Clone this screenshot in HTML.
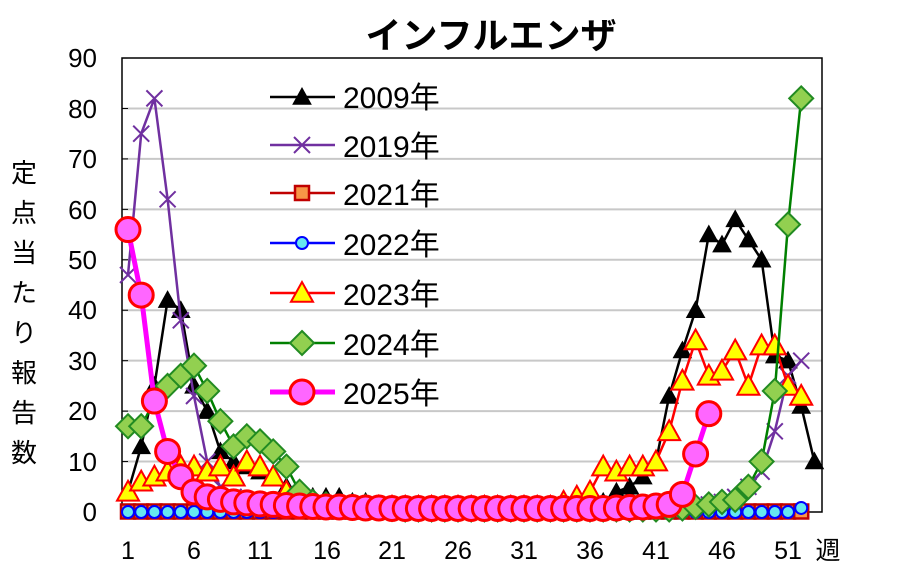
<!DOCTYPE html>
<html><head><meta charset="utf-8"><style>
body{margin:0;background:#fff;width:920px;height:576px;overflow:hidden}
svg text{font-family:"Liberation Sans","Noto Sans CJK JP",sans-serif}
</style></head><body>
<svg id="s" width="920" height="576" xmlns="http://www.w3.org/2000/svg">
<rect width="920" height="576" fill="#fff"/>
<g id="grid"></g>
<rect x="122" y="58" width="700" height="454" fill="none" stroke="#000" stroke-width="1.5"/>
<text x="491" y="48" font-size="36" font-weight="bold" text-anchor="middle">インフルエンザ</text>
<g font-size="26" text-anchor="end">
<text x="97" y="521">0</text><text x="97" y="471">10</text><text x="97" y="420">20</text><text x="97" y="370">30</text><text x="97" y="319">40</text><text x="97" y="269">50</text><text x="97" y="219">60</text><text x="97" y="168">70</text><text x="97" y="118">80</text><text x="97" y="67">90</text>
</g>
<g font-size="25" text-anchor="middle">
<text x="128" y="559">1</text><text x="194" y="559">6</text><text x="260" y="559">11</text><text x="327" y="559">16</text><text x="392" y="559">21</text><text x="458" y="559">26</text><text x="524" y="559">31</text><text x="590" y="559">36</text><text x="656" y="559">41</text><text x="722" y="559">46</text><text x="788" y="559">51</text><text x="828" y="559">週</text>
</g>
<g font-size="26" text-anchor="middle">
<text x="24" y="182">定</text><text x="24" y="222">点</text><text x="24" y="262">当</text><text x="24" y="302">た</text><text x="24" y="342">り</text><text x="24" y="382">報</text><text x="24" y="422">告</text><text x="24" y="462">数</text>
</g>
<g id="series"></g>
<g id="legend" font-size="30">
<text x="343" y="108">2009年</text><text x="343" y="157">2019年</text><text x="343" y="205">2021年</text><text x="343" y="255">2022年</text><text x="343" y="305">2023年</text><text x="343" y="355">2024年</text><text x="343" y="404">2025年</text>
</g>
</svg>
<script>
const NS="http://www.w3.org/2000/svg";
const X=w=>128+(w-1)*13.2, Y=v=>512-v*5.044;
function el(t,a,p){const e=document.createElementNS(NS,t);for(const k in a)e.setAttribute(k,a[k]);p.appendChild(e);return e;}
const g=document.getElementById('grid');
for(let i=1;i<=8;i++)el('line',{x1:122,x2:822,y1:Y(i*10),y2:Y(i*10),stroke:'#c8c8c8','stroke-width':2},g);
for(let i=0;i<=9;i++)el('line',{x1:122,x2:128,y1:Y(i*10),y2:Y(i*10),stroke:'#000','stroke-width':1},g);
function fill(a,n,v){while(a.length<n)a.push(v);return a;}
const d2009=[4,13,25,42,40,25,20,12,10,9,8,7,5,4,3,3,3,2,2,1,1,1,1,1,1,1,1,1,1,1,1,1,1,1,1,1,2,4,5,7,10,23,32,40,55,53,58,54,50,31,30,21,10];
const d2019=[47,75,82,62,38,23,10,5,3,2,1.5,1,1,1,0.8,0.6,0.5,0.5,0.5,0.5,0.4,0.4,0.4,0.4,0.4,0.4,0.4,0.4,0.4,0.4,0.4,0.4,0.4,0.4,0.4,0.4,0.4,0.4,0.4,0.4,0.4,0.5,0.6,1,1.5,2,3,5,8,16,27,30];
const d2021=fill([],52,0.1);
const d2022=fill([],51,0).concat([0.8]);
const d2023=[4,6,7,8,9,9,8,9,7,10,9,7,4,3,2,1.5,1,1,1,1,1,1,1,1,1,1,1,1,1,1,1,1,1,2,3,4,9,8,9,9,10,16,26,34,27,28,32,25,33,33,25,23];
const d2024=[17,17,22,25,27,29,24,18,13,15,14,12,9,4,2,1.5,1,1,1,0.8,0.6,0.5,0.5,0.5,0.5,0.5,0.5,0.5,0.5,0.5,0.5,0.5,0.5,0.5,0.5,0.5,0.5,0.5,0.5,0.5,0.5,0.5,0.7,1,1.5,2,2.4,5,10,24,57,82];
const d2025=[56,43,22,12,7,4,3,2.5,2,1.8,1.6,1.5,1.3,1.2,1.1,1,1,0.9,0.8,0.8,0.7,0.7,0.7,0.7,0.7,0.7,0.7,0.7,0.7,0.7,0.7,0.7,0.7,0.7,0.7,0.7,0.7,0.8,0.9,1,1.2,1.5,3.5,11.5,19.5];
const S=document.getElementById('series');
function tri(p,x,y,s,f,st,sw){el('polygon',{points:`${x},${y-s} ${x-s},${y+s*0.8} ${x+s},${y+s*0.8}`,fill:f,stroke:st,'stroke-width':sw},p);}
const M={
 tri9:(p,x,y)=>tri(p,x,y,9,'#000','#000',1),
 x:(p,x,y)=>{el('path',{d:`M${x-8} ${y-8}L${x+8} ${y+8}M${x-8} ${y+8}L${x+8} ${y-8}`,stroke:'#7030a0','stroke-width':2},p);},
 sq:(p,x,y)=>el('rect',{x:x-7,y:y-7,width:14,height:14,fill:'#f79646',stroke:'#c00000','stroke-width':2.5},p),
 cir:(p,x,y)=>el('circle',{cx:x,cy:y,r:6,fill:'#66e8f0',stroke:'#0000ff','stroke-width':2},p),
 ytri:(p,x,y)=>tri(p,x,y,11,'#ffff00','#ff0000',2),
 dia:(p,x,y)=>el('polygon',{points:`${x},${y-12} ${x+12},${y} ${x},${y+12} ${x-12},${y}`,fill:'#92d050',stroke:'#228b22','stroke-width':2},p),
 pc:(p,x,y)=>el('circle',{cx:x,cy:y,r:12,fill:'#ff66ff',stroke:'#ff0000','stroke-width':3},p)
};
const series=[[d2009,'#000',2.5,'tri9'],[d2019,'#7030a0',2.5,'x'],[d2021,'#c00000',2.5,'sq'],[d2022,'#0000ff',2.5,'cir'],[d2023,'#ff0000',2.5,'ytri'],[d2024,'#008000',2.5,'dia'],[d2025,'#ff00ff',5,'pc']];
series.forEach(([d,c,w,m],i)=>{
 el('polyline',{points:d.map((v,k)=>X(k+1)+','+Y(v)).join(' '),fill:'none',stroke:c,'stroke-width':w},S);
 d.forEach((v,k)=>M[m](S,X(k+1),Y(v)));
 const ly=[97,145,193,243,293,343,392][i];
 const L=document.getElementById('legend');
 el('line',{x1:270,x2:335,y1:ly,y2:ly,stroke:c,'stroke-width':w},L);
 M[m](L,302,ly);
});
</script>
</body></html>
